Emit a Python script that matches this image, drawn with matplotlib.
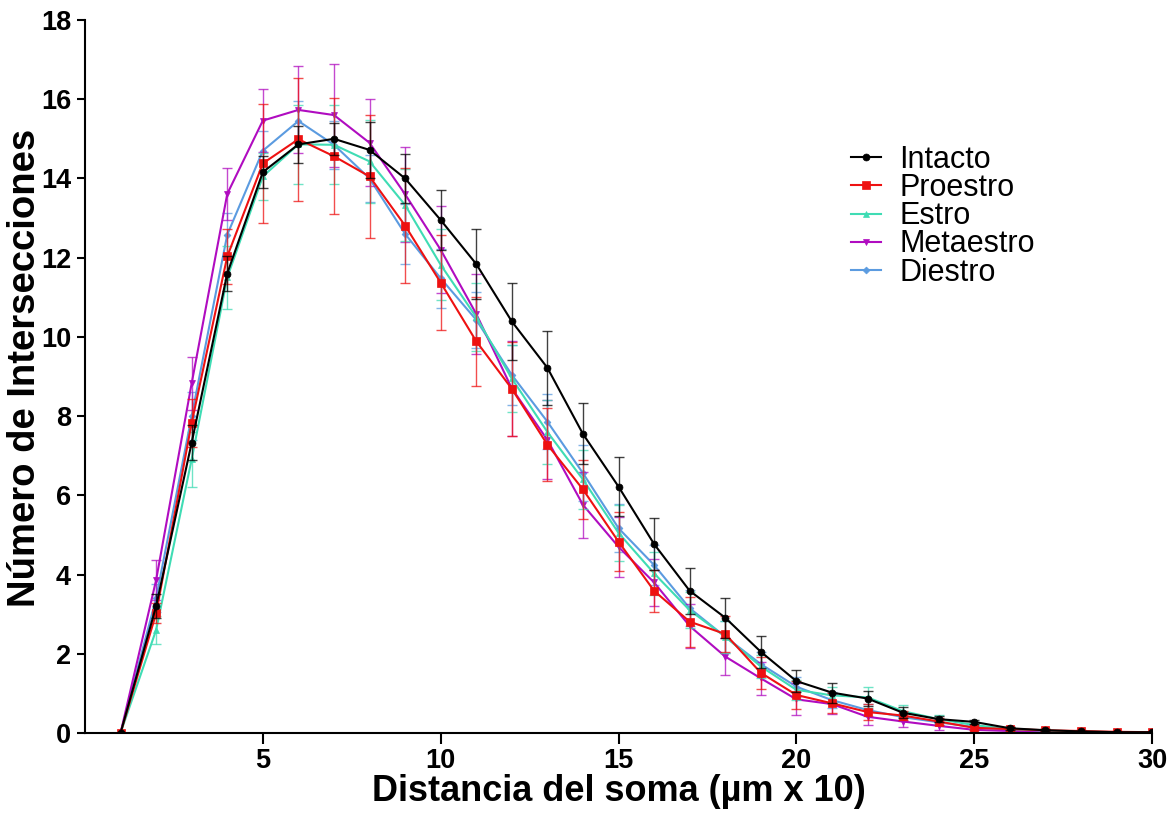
import matplotlib
matplotlib.use("Agg")
import matplotlib.pyplot as plt
import numpy as np

distance = list(range(1, 31))

intacto = [0, 3.2, 7.33, 11.6, 14.16, 14.86, 15.0, 14.72, 14.0, 12.95, 11.84, 10.39, 9.22, 7.55, 6.22,
           4.77, 3.59, 2.91, 2.05, 1.31, 1.02, 0.87, 0.51, 0.35, 0.28, 0.12, 0.07, 0.04, 0.02, 0.02]
intacto_sem = [0, 0.3, 0.45, 0.45, 0.4, 0.47, 0.4, 0.7, 0.62, 0.76, 0.88, 0.97, 0.94, 0.77, 0.75,
               0.65, 0.58, 0.5, 0.41, 0.28, 0.25, 0.2, 0.14, 0.08, 0.06, 0.04, 0.02, 0.01, 0.01, 0.01]

proestro = [0, 3.02, 7.83, 12.03, 14.38, 14.99, 14.56, 14.05, 12.81, 11.37, 9.89, 8.69, 7.28, 6.15, 4.83,
            3.59, 2.81, 2.5, 1.52, 0.96, 0.75, 0.53, 0.44, 0.29, 0.13, 0.1, 0.07, 0.05, 0.03, 0.02]
proestro_sem = [0, 0.25, 0.6, 0.7, 1.5, 1.55, 1.47, 1.55, 1.45, 1.2, 1.12, 1.19, 0.93, 0.75, 0.75,
                0.53, 0.63, 0.45, 0.4, 0.35, 0.25, 0.2, 0.12, 0.08, 0.05, 0.04, 0.03, 0.02, 0.01, 0.01]

estro = [0, 2.6, 6.91, 11.5, 14.05, 14.86, 14.85, 14.43, 13.33, 11.82, 10.5, 8.95, 7.6, 6.4, 5.05,
         4.03, 3.1, 2.43, 1.68, 1.09, 0.95, 0.9, 0.55, 0.35, 0.2, 0.1, 0.06, 0.04, 0.02, 0.01]
estro_sem = [0, 0.35, 0.7, 0.8, 0.6, 1.0, 1.0, 1.05, 0.9, 0.9, 0.85, 0.85, 0.8, 0.75, 0.7,
             0.55, 0.45, 0.4, 0.3, 0.25, 0.2, 0.27, 0.15, 0.1, 0.07, 0.04, 0.03, 0.02, 0.01, 0.01]

metaestro = [0, 3.86, 8.83, 13.61, 15.46, 15.73, 15.6, 14.9, 13.6, 12.2, 10.58, 8.7, 7.4, 5.76, 4.7,
             3.8, 2.7, 1.93, 1.38, 0.85, 0.73, 0.41, 0.29, 0.18, 0.08, 0.05, 0.03, 0.02, 0.01, 0.01]
metaestro_sem = [0, 0.5, 0.67, 0.65, 0.8, 1.1, 1.3, 1.1, 1.2, 1.1, 1.0, 1.2, 1.0, 0.84, 0.75,
                 0.6, 0.55, 0.47, 0.42, 0.4, 0.25, 0.2, 0.15, 0.1, 0.06, 0.04, 0.03, 0.02, 0.01, 0.01]

diestro = [0, 3.4, 8.0, 12.58, 14.7, 15.45, 14.85, 14.0, 12.6, 11.48, 10.43, 9.04, 7.86, 6.56, 5.17,
           4.24, 3.15, 2.43, 1.74, 1.17, 0.83, 0.58, 0.4, 0.27, 0.15, 0.08, 0.05, 0.03, 0.02, 0.01]
diestro_sem = [0, 0.35, 0.6, 0.55, 0.5, 0.5, 0.6, 0.6, 0.75, 0.75, 0.7, 0.75, 0.7, 0.7, 0.6,
               0.5, 0.45, 0.4, 0.3, 0.25, 0.2, 0.15, 0.1, 0.08, 0.05, 0.04, 0.03, 0.02, 0.01, 0.01]

labels = ["Intacto", "Proestro", "Estro", "Metaestro", "Diestro"]
x_ticks = [5, 10, 15, 20, 25, 30]
y_ticks = [0, 2, 4, 6, 8, 10, 12, 14, 16, 18]

plt.rcParams['font.family'] = ['Liberation Sans', 'DejaVu Sans']

fig = plt.figure(figsize=(11.72, 8.13), dpi=100)
ax = fig.add_axes([0.0725, 0.0984, 0.983 - 0.0725, 0.9754 - 0.0984])

series = [
    ("Diestro", diestro, diestro_sem, '#5b9be0', 'D', 3.5),
    ("Metaestro", metaestro, metaestro_sem, '#b00cc0', 'v', 5),
    ("Estro", estro, estro_sem, '#3fdcb4', '^', 4),
    ("Proestro", proestro, proestro_sem, '#ee1111', 's', 5.5),
    ("Intacto", intacto, intacto_sem, '#000000', 'o', 5),
]
handles = {}
for name, y, e, c, m, ms in series:
    ax.errorbar(distance, y, yerr=e, fmt='none', ecolor=c, elinewidth=1.0,
                capsize=3.5, capthick=1.0, alpha=0.75)
    ln, = ax.plot(distance, y, color=c, marker=m, markersize=ms, linewidth=1.5,
                  markeredgewidth=0.5, label=name)
    handles[name] = ln

ax.set_xlim(0, 30)
ax.set_ylim(0, 18)
ax.set_xticks(x_ticks)
ax.set_yticks(y_ticks)
for s in ['top', 'right']:
    ax.spines[s].set_visible(False)
for s in ['left', 'bottom']:
    ax.spines[s].set_linewidth(1.5)
ax.tick_params(axis='both', direction='out', width=1.5, labelsize=19.5)
ax.tick_params(axis='x', length=8, pad=3)
ax.tick_params(axis='y', length=6, pad=4)
for lab in ax.get_xticklabels() + ax.get_yticklabels():
    lab.set_fontweight('bold')

ax.set_xlabel("Distancia del soma (µm x 10)", fontsize=26, fontweight='bold', labelpad=0)
ax.set_ylabel("Número de Intersecciones", fontsize=27.5, fontweight='bold')
ax.yaxis.set_label_coords(-0.0395, 0.5126)

leg = ax.legend([handles[l] for l in labels], labels, loc='upper left',
                bbox_to_anchor=(0.706, 0.842), frameon=False, fontsize=22,
                handlelength=1.0, handletextpad=0.6, labelspacing=-0.06,
                borderaxespad=0)

fig.savefig("out.png", dpi=100)
